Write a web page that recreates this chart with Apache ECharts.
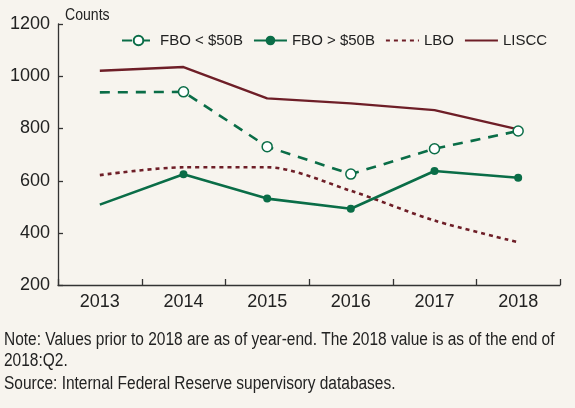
<!DOCTYPE html>
<html>
<head>
<meta charset="utf-8">
<script src="https://cdn.jsdelivr.net/npm/echarts@6/dist/echarts.min.js"></script>
<style>
html,body{margin:0;padding:0;background:#f7f4ee;}
#c{width:575px;height:408px;}
</style>
</head>
<body>
<div id="c"></div>
<script>
const years = ['2013','2014','2015','2016','2017','2018'];
const fboSmall = [938, 940, 730, 625, 722, 790];
const fboLarge = [508, 624, 531, 492, 637, 611];
const lbo = [621, 651, 651, 561, 447, 364];
const liscc = [1021, 1035, 915, 896, 870, 796];
const yTicks = [200, 400, 600, 800, 1000, 1200];

const GREEN = '#0a6d47';
const RED = '#6e1e27';
const FONT = '"Liberation Sans",Arial,sans-serif';
const TXT = '#222222';
const AX = '#333333';

function noFirstSymbol(arr){
  return arr.map((v,i)=> i===0 ? {value:v, symbol:'none'} : v);
}

const baseGraphic = [
  {id:'counts',type:'text',left:65,top:8,scaleX:0.88,style:{text:'Counts',fontFamily:FONT,fontSize:16,fill:TXT}},
  {id:'note',type:'text',left:4,top:330,scaleX:0.86,style:{text:'Note: Values prior to 2018 are as of year-end. The 2018 value is as of the end of\n2018:Q2.',fontFamily:FONT,fontSize:18,lineHeight:21,fill:TXT}},
  {id:'source',type:'text',left:4,top:375,scaleX:0.86,style:{text:'Source: Internal Federal Reserve supervisory databases.',fontFamily:FONT,fontSize:18,fill:TXT}}
];

const chart = echarts.init(document.getElementById('c'), null, {renderer:'canvas'});
chart.setOption({
  backgroundColor:'#f7f4ee',
  animation:false,
  textStyle:{fontFamily:FONT,color:TXT},
  grid:{left:58,right:15,top:24,bottom:123,containLabel:false},
  legend:{
    left:116, top:28, itemWidth:33, itemHeight:12, itemGap:10,
    textStyle:{fontFamily:FONT,fontSize:15,color:TXT},
    data:[
      {name:'FBO < $50B'},
      {name:'FBO > $50B'},
      {name:'LBO',itemStyle:{opacity:0}},
      {name:'LISCC',itemStyle:{opacity:0}}
    ]
  },
  xAxis:{
    type:'category', data:years, boundaryGap:true,
    axisLine:{show:true,lineStyle:{color:AX,width:1.3}},
    axisTick:{show:false},
    axisLabel:{fontFamily:FONT,fontSize:18,color:TXT,margin:8}
  },
  yAxis:{
    type:'value', min:yTicks[0], max:yTicks[yTicks.length-1], interval:200,
    splitLine:{show:false},
    axisLine:{show:true,lineStyle:{color:AX,width:1.3}},
    axisTick:{show:false},
    axisLabel:{fontFamily:FONT,fontSize:18,color:TXT,margin:8,formatter:function(v){return String(v);}}
  },
  graphic:baseGraphic,
  series:[
    {name:'FBO < $50B',type:'line',data:noFirstSymbol(fboSmall),
     symbol:'circle',symbolSize:10,showAllSymbol:true,
     itemStyle:{color:'#ffffff',borderColor:GREEN,borderWidth:1.5},
     lineStyle:{color:GREEN,width:2.6,type:[10,8]},z:4},
    {name:'FBO > $50B',type:'line',data:noFirstSymbol(fboLarge),
     symbol:'circle',symbolSize:8,showAllSymbol:true,
     itemStyle:{color:GREEN},
     lineStyle:{color:GREEN,width:2.6},z:3},
    {name:'LBO',type:'line',data:lbo,smooth:0.3,
     symbol:'none',itemStyle:{color:RED},
     lineStyle:{color:RED,width:2.6,type:[4,4]},z:2},
    {name:'LISCC',type:'line',data:liscc,
     symbol:'none',itemStyle:{color:RED},
     lineStyle:{color:RED,width:2.4},z:2}
  ]
});

// Inward-pointing axis ticks, placed through the chart's own scales.
(function addTicks(){
  const cx = years.map(y => chart.convertToPixel({xAxisIndex:0}, y));
  const half = (cx[1]-cx[0])/2;
  const xLeft = cx[0]-half;
  const yBase = chart.convertToPixel({yAxisIndex:0}, yTicks[0]);
  const els = [];
  const xb = cx.map(c => c-half).concat([cx[cx.length-1]+half]);
  xb.forEach((x,i)=>{
    const px = Math.round(x)+0.5;
    els.push({id:'xt'+i,type:'line',silent:true,z:10,
      shape:{x1:px,y1:yBase,x2:px,y2:yBase-6},
      style:{stroke:AX,lineWidth:1.3}});
  });
  yTicks.forEach((v,i)=>{
    const py = Math.round(chart.convertToPixel({yAxisIndex:0}, v))+0.5;
    els.push({id:'yt'+i,type:'line',silent:true,z:10,
      shape:{x1:xLeft,y1:py,x2:xLeft+5,y2:py},
      style:{stroke:AX,lineWidth:1.3}});
  });
  chart.setOption({graphic: baseGraphic.concat(els)});
})();
</script>
</body>
</html>
